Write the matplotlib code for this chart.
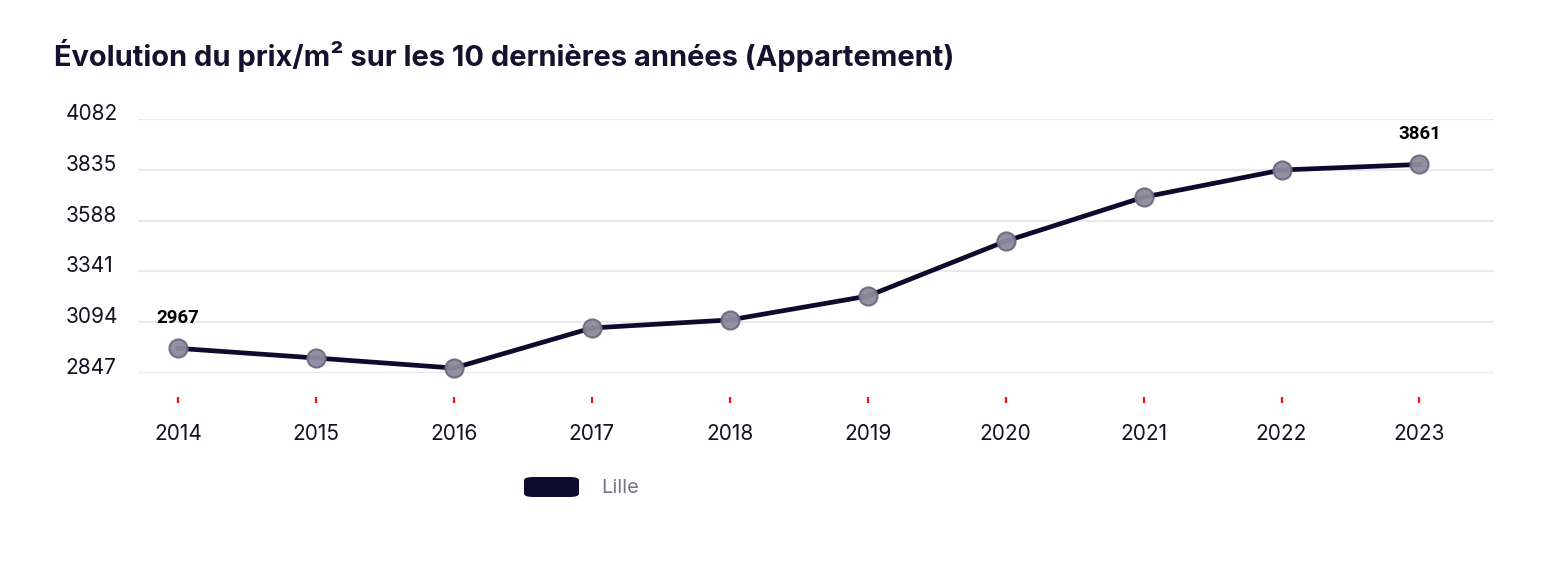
import numpy as np
import matplotlib.pyplot as plt
from matplotlib.patches import FancyBboxPatch
from matplotlib.transforms import ScaledTranslation

# ==========================================================
# DATA
# ==========================================================
years = ["2014", "2015", "2016", "2017", "2018", "2019", "2020", "2021", "2022", "2023"]
prix = [2967, 2920, 2871, 3066, 3105, 3221, 3488, 3702, 3834, 3861]
y_ticks = [2847, 3094, 3341, 3588, 3835, 4082]
serie = "Lille"
titre = "Évolution du prix/m² sur les 10 dernières années (Appartement)"

navy = "#0d0a2e"
font = ["Inter", "DejaVu Sans"]

fig = plt.figure(figsize=(15.44, 5.68), dpi=100)
ax = fig.add_axes([0.0894, 0.3433, 0.8782, 0.4472])

x = np.arange(len(years))

for yv in y_ticks:
    ax.axhline(yv, color="#e9e9ee", lw=1.6, zorder=0)

ax.plot(x, prix, color=navy, lw=3.4, zorder=2, clip_on=False)
ax.plot(x, prix, "o", ms=13, mfc="#8c8a9c", mec="#6c6a80", mew=1.5, alpha=0.95,
        zorder=3, clip_on=False)

# labels on first and last point
for i in [0, len(prix) - 1]:
    ax.annotate(str(prix[i]), (x[i], prix[i]), xytext=(0, 22), textcoords="offset points",
                ha="center", va="center", fontsize=13.5, fontweight="bold",
                family=["Roboto", "DejaVu Sans"], color="black")

ax.set_xlim(-0.29, 9.54)
ax.set_ylim(2847, 4082)

# red ticks under the axis
ax.plot(x, [-0.106] * len(x), "|", color="#ff1010", ms=5, mew=1.6,
        transform=ax.get_xaxis_transform(), clip_on=False)

ax.set_xticks(x)
ax.set_xticklabels(years, fontsize=15, family=font, color="#111122")
ax.tick_params(axis="x", length=0, pad=37)

ax.set_yticks(y_ticks)
ax.set_yticklabels([str(v) for v in y_ticks], fontsize=15, family=font, color="#111122")
ax.tick_params(axis="y", length=0, pad=52)
for lab in ax.get_yticklabels():
    lab.set_horizontalalignment("left")
    lab.set_transform(lab.get_transform() + ScaledTranslation(0, 5 / 72, fig.dpi_scale_trans))

for s in ax.spines.values():
    s.set_visible(False)

fig.text(54 / 1544, 1 - 56 / 568, titre, fontsize=20.9, fontweight="bold", family=font,
         color="#14122e", va="center", ha="left")

# legend
leg = FancyBboxPatch((524 / 1544, 1 - 497 / 568), 55 / 1544, 20 / 568,
                     boxstyle="round,pad=0,rounding_size=0.006", transform=fig.transFigure,
                     facecolor=navy, edgecolor="none")
fig.patches.append(leg)
fig.text(601 / 1544, 1 - 488 / 568, serie, fontsize=14.5, family=font, color="#77758a",
         va="center", ha="left")

fig.savefig("out.png", dpi=100)
